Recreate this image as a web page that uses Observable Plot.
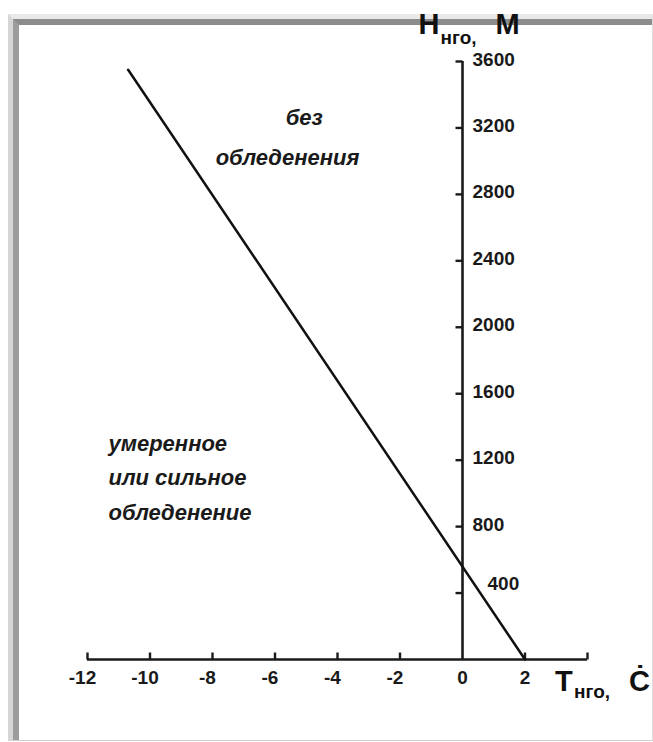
<!DOCTYPE html>
<html><head><meta charset="utf-8">
<script src="https://cdn.jsdelivr.net/npm/d3@7"></script>
<script src="https://cdn.jsdelivr.net/npm/@observablehq/plot@0.6"></script>
<style>
html,body{margin:0;padding:0;background:#fff;}
#wrap{position:relative;width:653px;height:742px;overflow:hidden;}
#frame{position:absolute;left:8px;top:14px;right:0;bottom:1px;border-top:5px solid #e9e9e9;border-left:5px solid #d6d6d6;border-right:1px solid #dcdcdc;border-bottom:1px solid #cfcfcf;}
#frame2{position:absolute;left:0;top:0;right:0;bottom:0;border-top:6px solid #8c8c8c;border-left:6px solid #9c9c9c;}
#chart{position:absolute;left:0;top:0;z-index:2;}
</style></head>
<body><div id="wrap"><div id="frame"><div id="frame2"></div></div><div id="chart"></div></div>
<script>
// Data
const temps = [-10.7, 2];          // T_нго, °C
const heights = [3550, 0];         // H_нго, м
const xTicks = [-12, -10, -8, -6, -4, -2, 0, 2, 4];
const xTickLabels = ["-12", "-10", "-8", "-6", "-4", "-2", "0", "2", ""];
const yTicks = [400, 800, 1200, 1600, 2000, 2400, 2800, 3200, 3600];
const yTickLabels = ["400", "800", "1200", "1600", "2000", "2400", "2800", "3200", "3600"];
const zoneTexts = ["без", "обледенения", "умеренное", "или сильное", "обледенение"];
const zoneX = [-5.66, -7.9, -11.33, -11.33, -11.33];
const zoneY = [3260, 3020, 1300, 1090, 880];

const line = temps.map((t, i) => ({t, h: heights[i]}));
const xt = xTicks.map((v, i) => ({v, label: xTickLabels[i]}));
const yt = yTicks.map((v, i) => ({v, label: yTickLabels[i]}));
const zones = zoneTexts.map((s, i) => ({s, x: zoneX[i], y: zoneY[i]}));

const tickUp = {draw(ctx) { ctx.moveTo(0, 0); ctx.lineTo(0, -7); }};
const tickLeft = {draw(ctx) { ctx.moveTo(0, 0); ctx.lineTo(-7, 0); }};
const font = "Liberation Sans, Arial, sans-serif";
const ink = "#1a1a1a";
const yTop = yTicks[yTicks.length - 1];

const chart = Plot.plot({
  width: 653,
  height: 742,
  marginLeft: 87,
  marginRight: 66,
  marginTop: 61,
  marginBottom: 83,
  style: {background: "transparent", fontFamily: font, overflow: "visible"},
  x: {domain: [-12, 4], axis: null},
  y: {domain: [0, 3600], axis: null},
  marks: [
    Plot.ruleY([0], {x1: xTicks[0], x2: xTicks[xTicks.length - 1], stroke: ink, strokeWidth: 2.6}),
    Plot.ruleX([0], {y1: 0, y2: yTop, stroke: ink, strokeWidth: 2.6}),
    Plot.dot(xt.filter(d => d.v !== 0), {x: "v", y: 0, symbol: tickUp, stroke: ink, strokeWidth: 2.4, fill: "none"}),
    Plot.dot(yt, {x: 0, y: "v", symbol: tickLeft, stroke: ink, strokeWidth: 2.4, fill: "none"}),
    Plot.line(line, {x: "t", y: "h", stroke: "#111", strokeWidth: 2.5}),
    Plot.text(xt.filter(d => d.v < 0), {x: "v", y: 0, text: "label", dy: 18, dx: -5, fontSize: 19, fontWeight: "bold", fill: ink}),
    Plot.text(xt.filter(d => d.v >= 0), {x: "v", y: 0, text: "label", dy: 18, fontSize: 19, fontWeight: "bold", fill: ink}),
    Plot.text(yt.filter(d => d.v !== 400), {x: 0, y: "v", text: "label", dx: 10, dy: -2, textAnchor: "start", fontSize: 19, fontWeight: "bold", fill: ink}),
    Plot.text(yt.filter(d => d.v === 400), {x: 0, y: "v", text: "label", dx: 25, dy: -9, textAnchor: "start", fontSize: 19, fontWeight: "bold", fill: ink}),
    Plot.text(zones, {x: "x", y: "y", text: "s", textAnchor: "start", fontSize: 22, fontWeight: "bold", fontStyle: "italic", fill: ink}),
    // axis titles
    Plot.text(["H"], {x: 0, y: yTop, text: d => d, dx: -44, dy: -37, textAnchor: "start", fontSize: 29, fontWeight: "bold", fill: "#111"}),
    Plot.text(["нго,"], {x: 0, y: yTop, text: d => d, dx: -22, dy: -24, textAnchor: "start", fontSize: 19, fontWeight: "bold", fill: "#111"}),
    Plot.text(["М"], {x: 0, y: yTop, text: d => d, dx: 33, dy: -37, textAnchor: "start", fontSize: 29, fontWeight: "bold", fill: "#111"}),
    Plot.text(["T"], {x: 2, y: 0, text: d => d, dx: 30, dy: 22, textAnchor: "start", fontSize: 29, fontWeight: "bold", fill: "#111"}),
    Plot.text(["нго,"], {x: 2, y: 0, text: d => d, dx: 49, dy: 32, textAnchor: "start", fontSize: 19, fontWeight: "bold", fill: "#111"}),
    Plot.text(["Ċ"], {x: 2, y: 0, text: d => d, dx: 104, dy: 22, textAnchor: "start", fontSize: 29, fontWeight: "bold", fill: "#111"})
  ]
});
document.getElementById("chart").appendChild(chart);
</script>
</body></html>
